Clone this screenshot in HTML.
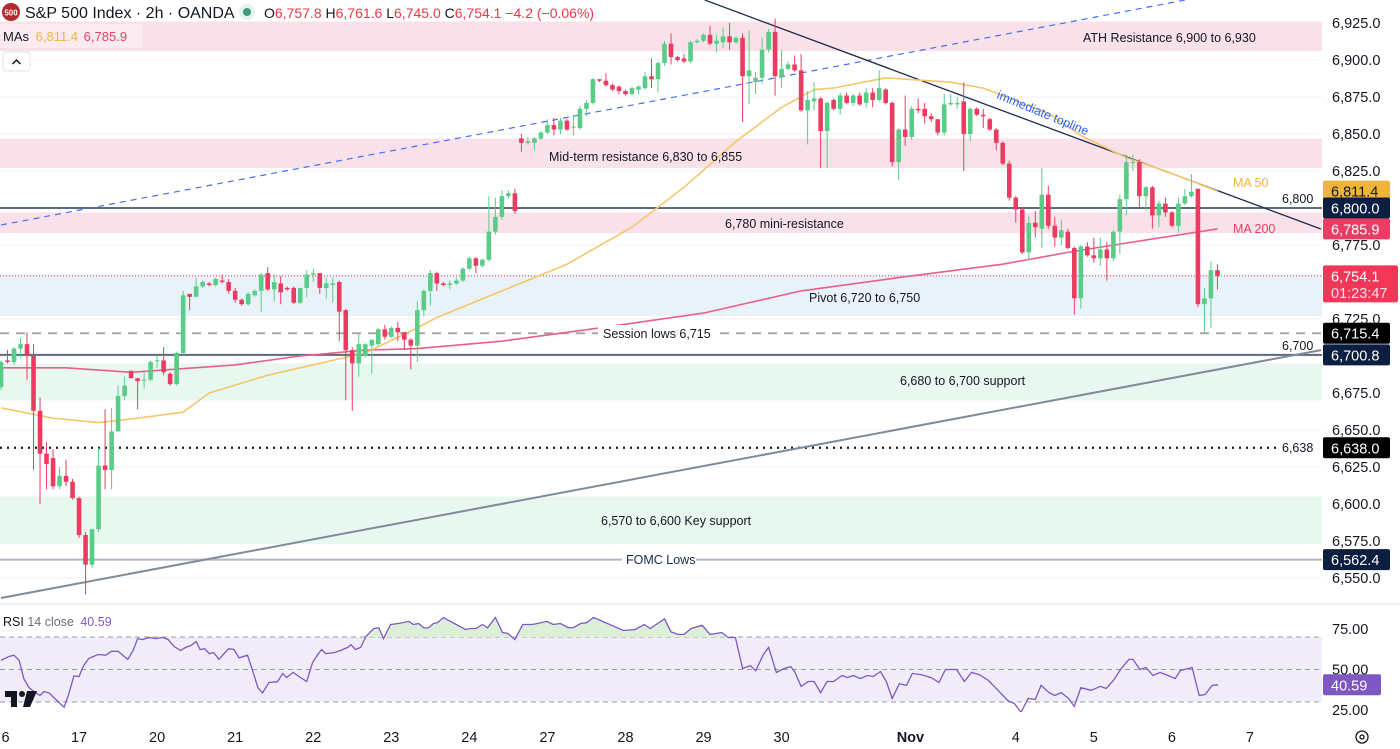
<!DOCTYPE html>
<html><head><meta charset="utf-8"><style>
html,body{margin:0;padding:0;background:#fff;width:1400px;height:749px;overflow:hidden}
svg{display:block;font-family:"Liberation Sans",sans-serif}
</style></head><body>
<svg id="chart" width="1400" height="749" viewBox="0 0 1400 749">
<defs>
<clipPath id="mainClip"><rect x="0" y="0" width="1322" height="603"/></clipPath>
<clipPath id="rsiClip"><rect x="0" y="605" width="1322" height="107"/></clipPath>
<clipPath id="obClip"><rect x="0" y="605" width="1322" height="32"/></clipPath>
</defs>
<g id="grid"></g>
<g id="zones"></g>
<g id="lines" clip-path="url(#mainClip)"></g>
<g id="candles" clip-path="url(#mainClip)"></g>
<g id="labels"></g>
<line x1="0" y1="604" x2="1400" y2="604" stroke="#e0e3eb" stroke-width="1"/>
<g id="rsi"></g>
<g id="axis"></g>
<g id="taxis"></g>
<g>
  <circle cx="11" cy="12" r="9" fill="#b22a2f"/>
  <text x="11" y="15.5" font-size="8" fill="#fff" text-anchor="middle" font-weight="bold">500</text>
  <text x="25" y="18" font-size="16" fill="#131722">S&amp;P 500 Index · 2h · OANDA</text>
  <circle cx="247" cy="12" r="8" fill="#e3f2ec"/><circle cx="247" cy="12" r="4" fill="#3d9a7a"/>
  <text x="264" y="18" font-size="14" fill="#131722">O<tspan fill="#f23645">6,757.8</tspan> H<tspan fill="#f23645">6,761.6</tspan> L<tspan fill="#f23645">6,745.0</tspan> C<tspan fill="#f23645">6,754.1</tspan> <tspan fill="#f23645">−4.2 (−0.06%)</tspan></text>
  <rect x="0" y="24" width="143" height="24" fill="#fff" opacity="0.35"/>
  <text x="3" y="41" font-size="13" fill="#131722">MAs <tspan fill="#f0b43c" dx="3">6,811.4</tspan> <tspan fill="#e83e63" dx="2">6,785.9</tspan></text>
  <rect x="3" y="52" width="27" height="19" rx="3" fill="#fff" stroke="#e0e3eb"/>
  <path d="M12.5 64 L16.5 60 L20.5 64" fill="none" stroke="#131722" stroke-width="1.5"/>
</g>
<g>
  <path d="M5 691 H17 V707 H11 V697 H5 Z" fill="#131722"/><circle cx="22" cy="694" r="3" fill="#131722"/><path d="M27 691 H37 L30 707 H23 Z" fill="#131722"/>
</g>
<g><circle cx="1362" cy="737" r="6" fill="none" stroke="#131722" stroke-width="1.3"/><circle cx="1362" cy="737" r="2" fill="none" stroke="#131722" stroke-width="1.3"/></g>
</svg>
<script>
const O=[6679,6697,6696,6705,6708,6700,6663,6634,6631,6612,6619,6615,6604,6579,6559,6583,6626,6623,6649,6673,6690,6685,6684,6684,6697,6697,6688,6681,6702,6742,6740,6747,6749,6748,6751,6750,6744,6738,6735,6741,6744,6756,6745,6749,6746,6746,6736,6746,6755,6756,6746,6748,6750,6731,6704,6695,6700,6707,6708,6718,6713,6719,6716,6711,6707,6731,6744,6756,6749,6748,6749,6751,6759,6766,6761,6765,6784,6794,6808,6810,6847,6844,6844,6847,6851,6856,6853,6859,6855,6854,6867,6871,6887,6886,6883,6882,6879,6877,6880,6881,6889,6887,6898,6911,6902,6901,6899,6912,6913,6917,6911,6912,6916,6912,6915,6889,6885,6888,6907,6919,6889,6894,6897,6893,6866,6872,6874,6852,6873,6867,6876,6871,6876,6871,6878,6873,6880,6871,6831,6853,6848,6867,6867,6862,6860,6851,6870,6870,6872,6850,6867,6863,6860,6853,6844,6830,6807,6799,6770,6790,6786,6809,6788,6780,6784,6773,6739,6774,6768,6766,6772,6766,6784,6806,6831,6831,6808,6814,6795,6803,6797,6788,6803,6808,6813,6735,6739,6758];
const H=[6697,6704,6706,6712,6716,6708,6672,6642,6637,6625,6630,6617,6605,6581,6583,6638,6664,6665,6680,6686,6690,6685,6689,6697,6700,6706,6689,6703,6744,6742,6753,6751,6750,6753,6755,6752,6746,6739,6743,6745,6756,6760,6755,6754,6747,6747,6746,6758,6759,6756,6753,6753,6751,6732,6706,6715,6709,6711,6719,6721,6720,6723,6716,6712,6737,6745,6758,6757,6750,6751,6753,6760,6767,6767,6766,6808,6807,6812,6812,6813,6850,6848,6848,6852,6860,6861,6861,6860,6863,6869,6873,6888,6887,6891,6884,6883,6880,6882,6883,6892,6901,6899,6913,6918,6903,6904,6913,6914,6918,6923,6917,6922,6925,6916,6918,6920,6892,6915,6921,6928,6907,6899,6903,6904,6879,6885,6875,6872,6874,6878,6878,6877,6878,6881,6881,6893,6881,6872,6854,6876,6869,6874,6871,6864,6860,6877,6877,6875,6885,6868,6868,6867,6861,6854,6845,6832,6808,6800,6795,6798,6827,6815,6794,6792,6786,6774,6775,6777,6780,6780,6777,6785,6809,6836,6836,6833,6815,6815,6805,6807,6798,6807,6813,6823,6813,6746,6764,6762];
const L=[6677,6695,6694,6699,6684,6623,6600,6610,6610,6610,6612,6603,6577,6539,6557,6581,6610,6610,6649,6670,6685,6664,6678,6683,6692,6687,6680,6680,6701,6731,6740,6746,6747,6747,6749,6742,6736,6734,6734,6740,6730,6744,6737,6735,6744,6735,6735,6740,6750,6742,6739,6736,6710,6670,6663,6686,6699,6688,6707,6711,6712,6710,6704,6691,6696,6727,6734,6744,6747,6745,6748,6750,6758,6756,6760,6764,6782,6792,6806,6796,6838,6843,6839,6846,6850,6849,6850,6852,6849,6853,6862,6870,6885,6882,6879,6877,6876,6876,6877,6880,6881,6878,6896,6897,6899,6898,6898,6911,6912,6910,6905,6908,6907,6911,6858,6870,6877,6884,6905,6876,6881,6893,6892,6865,6843,6866,6827,6827,6866,6863,6870,6869,6869,6868,6868,6872,6870,6828,6819,6842,6846,6864,6857,6858,6849,6849,6869,6867,6825,6845,6862,6854,6852,6839,6829,6805,6790,6769,6765,6780,6773,6786,6774,6775,6772,6728,6732,6767,6763,6761,6751,6764,6769,6795,6825,6800,6798,6786,6787,6794,6787,6783,6802,6807,6733,6715,6719,6745];
const C=[6696,6696,6705,6708,6700,6663,6634,6627,6612,6619,6615,6604,6579,6559,6583,6626,6623,6649,6673,6680,6685,6683,6684,6696,6697,6689,6681,6702,6741,6740,6747,6750,6748,6752,6750,6744,6738,6735,6742,6744,6755,6745,6750,6743,6745,6736,6746,6755,6756,6746,6749,6749,6730,6704,6695,6708,6708,6711,6718,6713,6719,6716,6711,6707,6731,6744,6756,6749,6748,6749,6751,6759,6766,6761,6765,6784,6794,6808,6810,6798,6844,6845,6847,6851,6856,6853,6859,6853,6855,6867,6871,6887,6886,6883,6880,6879,6877,6881,6882,6889,6887,6898,6911,6902,6900,6899,6912,6913,6917,6911,6913,6916,6912,6915,6889,6893,6888,6907,6919,6889,6894,6897,6893,6866,6873,6874,6852,6871,6867,6876,6871,6876,6870,6878,6873,6881,6871,6831,6853,6848,6867,6866,6862,6860,6851,6870,6871,6871,6850,6867,6863,6862,6853,6844,6830,6807,6799,6770,6790,6787,6809,6788,6780,6785,6773,6739,6774,6768,6766,6772,6766,6784,6806,6831,6831,6808,6814,6795,6803,6797,6788,6803,6808,6811,6735,6739,6758,6754];
const ma50Idx=[0,8,15,21,28,32,41,51,56,64,67,77,87,97,105,113,120,125,128,136,146,151,161,166,173,179,187];
const ma50Val=[6665,6658,6655,6658,6662,6675,6687,6697,6702,6719,6726,6744,6762,6787,6814,6845,6868,6880,6881,6888,6885,6881,6864,6849,6834,6825,6811.4];
const ma200Idx=[0,10,20,36,46,56,64,77,92,108,123,138,154,164,174,187];
const ma200Val=[6692,6692,6689,6694,6700,6704,6705,6710,6719,6729,6744,6753,6762,6770,6777,6785.9];
const rsiIdx=[0,1.2,2,2.8,3.5,4.3,5.1,6,6.6,7.4,8.1,9.7,10.4,11.2,12,12.7,13.5,14.9,16.1,17,18,19.5,20.3,21,21.8,22.7,23.8,24.9,25.7,26.6,27.6,28.4,29.2,30,30.6,31.3,32,32.7,33.5,34.3,35,35.8,36.6,37.9,38.7,39.5,40.2,41.2,42.5,43.3,43.9,44.9,45.8,47,47.9,48.7,49.3,49.9,51.2,52.2,53.3,53.8,54.5,55.3,56.1,57.3,58.1,58.8,59.9,61.1,62.7,63.4,64.2,65,65.7,66.5,67.1,68,71.4,72.2,73,74,74.8,76,77.1,77.9,79,80.2,81.7,83.9,84.9,86,87.2,88,89.1,90,91.1,95.7,97.5,98.9,99.8,102,103,104.1,105,106.1,107.8,109,110.8,111.8,112.9,114,115.2,116,117.2,118,119.2,120.4,121.4,122,123,124.1,125,126,127,128,129.3,130.1,131,132.1,133.2,134.1,135.2,136.1,137,138.1,139.2,140.1,141.5,143,144.2,145.2,146.9,148.1,149.2,150.4,151.8,153.3,154.8,155.8,156.8,157.9,159,159.9,161.1,162,163,164.1,165,166,167.6,169,169.9,171.1,172.2,173.4,174,175.1,176,177.1,178.2,179.4,180.5,181.3,183.1,184.2,185.1,186.2,187.1];
const rsiVal=[55.6,58,58.8,55.6,44.4,38.8,36.4,34,36.4,35.6,32.8,26.8,34.8,46,45.7,52.4,56.8,59.2,58.8,61.2,61.2,56.2,61.7,69,68.4,69.7,69,69.7,68.4,64.2,61.7,63.6,64.8,67.2,62.3,62.8,59.8,60.4,56.2,59.8,62.8,62.3,57.2,58.8,49.2,38.8,35.6,42,42.5,47.6,45,48.2,45.7,42.6,54.3,59.2,62.3,59.8,60.4,61.7,63.6,65.2,62.3,63.6,70.3,75.2,75.6,69,77.7,78.3,79.6,77.7,78.3,75.6,75.6,78.3,78.8,82,74.6,75.2,75.2,77.7,75.6,82,72.8,72.2,68.4,77.7,77.7,79.6,77.7,78.3,75.8,75.8,78.3,78.8,82,74,74.6,77.7,75.2,81.2,73.2,71.6,71.6,75.2,77.2,71.6,72.8,69.7,69.7,50.6,52.4,49.2,59.2,63.6,48.2,50.6,51.8,48.8,39.6,42.6,42.6,35.8,42.6,42.6,46.3,45,46.3,44.4,46.3,45.7,48.8,42.6,32.2,41.2,40.2,47.6,46.8,45,42,50,50,42.6,48.2,46.8,43.2,37,30.8,29,23.6,32.2,31.6,40.2,35.8,34,35.8,32.2,27.2,38.8,37.2,39.6,38.3,43.8,50.6,56.2,56.2,50,51.2,46.3,48.2,46.3,44.4,49.4,51.2,34,34.6,40.2,40.6];
const priceTicks=[6925,6900,6875,6850,6825,6800,6775,6750,6725,6700,6675,6650,6625,6600,6575,6550];
const dateLabels=["6","17","20","21","22","23","24","27","28","29","30","Nov","4","5","6","7"];
const dateIdx=[0.7,12,24,36,48,60,72,84,96,108,120,139.8,156,168,180,192];

const NS="http://www.w3.org/2000/svg";
const xI=i=>1+i*6.505;
const yP=p=>23+(6925-p)*1.48;
const yR=r=>669.5-(r-50)*1.625;
function mk(tag,attrs,parent,text){const e=document.createElementNS(NS,tag);for(const k in attrs)e.setAttribute(k,attrs[k]);if(text!==undefined)e.textContent=text;parent.appendChild(e);return e;}
const gGrid=document.getElementById('grid'),gZones=document.getElementById('zones'),gLines=document.getElementById('lines'),gC=document.getElementById('candles'),gLab=document.getElementById('labels'),gR=document.getElementById('rsi'),gA=document.getElementById('axis'),gT=document.getElementById('taxis');

// grid
priceTicks.forEach(p=>{const l=mk('line',{x1:0,x2:1322,y1:yP(p),y2:yP(p),stroke:'#f0f2f6','stroke-width':1},gGrid);

});

// zones [top, bottom, color]
const zoneTop=[6926,6847,6797,6755,6695,6605];
const zoneBot=[6906,6827,6783,6727,6670,6573];
const zoneCol=['#f9e1ea','#f9e1ea','#f9e1ea','#eaf2f9','#e8f7ef','#e8f7ef'];
const zoneNames=['ath-resistance-zone','mid-term-resistance-zone','mini-resistance-zone','pivot-zone','support-zone','key-support-zone'];
zoneTop.forEach((t,k)=>{const r=mk('rect',{x:0,y:yP(t),width:1322,height:yP(zoneBot[k])-yP(t),fill:zoneCol[k]},gZones);

});

// horizontal levels
function hline(p,col,w,dash,name){const l=mk('line',{x1:0,x2:1322,y1:yP(p),y2:yP(p),stroke:col,'stroke-width':w},gLines);if(dash)l.setAttribute('stroke-dasharray',dash);

}
hline(6800,'#5d6b80',2,null,'level-6800');
hline(6700.8,'#5d6b80',2,null,'level-6700');
hline(6715.4,'#a8a8a8',2,'9 7','session-lows-line');
hline(6638,'#131722',2.2,'2 5','level-6638');
hline(6562.4,'#b2b7c4',2,null,'fomc-lows-line');
hline(6754.1,'#f23645',1,'1 2','current-price-line');

// trendlines
function tline(i1,p1,i2,p2,col,w,dash,name){const l=mk('line',{x1:xI(i1),y1:yP(p1),x2:xI(i2),y2:yP(p2),stroke:col,'stroke-width':w},gLines);if(dash)l.setAttribute('stroke-dasharray',dash);

}
tline(0,6788.5,182,6940.5,'#4a6ef0',1.2,'6 5','uptrend-channel-line');
tline(108.2,6940.5,202.9,6785.8,'#1e2a4a',1.3,null,'immediate-topline');
tline(0,6536.5,202.9,6704,'#7f8a9a',2,null,'rising-support-line');

// MAs
function maPath(idx,val,col,name){const d=idx.map((i,k)=>(k?'L':'M')+xI(i).toFixed(1)+' '+yP(val[k]).toFixed(1)).join(' ');const p=mk('path',{d:d,fill:'none',stroke:col,'stroke-width':1.6,'stroke-linejoin':'round'},gLines);

}
maPath(ma200Idx,ma200Val,'#e8608a','ma-200-line');
maPath(ma50Idx,ma50Val,'#f5c66a','ma-50-line');

// candles
const UP='#59cc88',DN='#ec3b61';
C.forEach((c,i)=>{const o=O[i],col=c>=o?UP:DN,x=xI(i);
const g=mk('g',{},gC);


mk('line',{x1:x,x2:x,y1:yP(H[i]),y2:yP(L[i]),stroke:col,'stroke-width':1},g);
const top=yP(Math.max(o,c)),bot=yP(Math.min(o,c));
mk('rect',{x:x-2.3,y:top,width:4.6,height:Math.max(1,bot-top),fill:col},g);});

// annotation labels
function lab(x,y,t,opts,name){const e=mk('text',Object.assign({x:x,y:y,'font-size':12.5,fill:'#131722'},opts||{}),gLab,t);

return e;}
lab(1083,42,'ATH Resistance 6,900 to 6,930',{},'ath-label');
lab(549,161,'Mid-term resistance 6,830 to 6,855',{},'mid-term-label');
lab(725,228,'6,780 mini-resistance',{},'mini-resistance-label');
lab(809,302,'Pivot 6,720 to 6,750',{},'pivot-label');
mk('rect',{x:598,y:325,width:122,height:16,fill:'#fff'},gLab);
lab(603,338,'Session lows 6,715',{},'session-lows-label');
lab(900,385,'6,680 to 6,700 support',{},'support-label');
lab(601,525,'6,570 to 6,600 Key support',{},'key-support-label');
mk('rect',{x:622,y:552,width:74,height:16,fill:'#fff'},gLab);
lab(626,564,'FOMC Lows',{fill:'#1e2a4a'},'fomc-lows-label');
lab(1282,203,'6,800',{},'level-6800-label');
lab(1282,350,'6,700',{},'level-6700-label');
mk('rect',{x:1278,y:440,width:44,height:16,fill:'#fff'},gLab);
lab(1282,452,'6,638',{},'level-6638-label');
lab(1233,187,'MA 50',{fill:'#f0b43c'},'ma-50-label');
lab(1233,233,'MA 200',{fill:'#e83e63'},'ma-200-label');
lab(0,0,'immediate topline',{fill:'#2962ff',transform:'translate(996,98) rotate(22.5)'},'topline-label');

// price axis
priceTicks.forEach(p=>{const t=mk('text',{x:1332,y:yP(p)+5,'font-size':14.5,fill:'#131722'},gA,p.toLocaleString('en-US',{minimumFractionDigits:1}));

});
const tagVal=[6811.4,6800.0,6785.9,6715.4,6700.8,6638.0,6562.4];
const tagCol=['#f0b43c','#0c1f40','#e83e63','#000000','#0c1f40','#000000','#0c1f40'];
const tagTxt=['#131722','#fff','#fff','#fff','#fff','#fff','#fff'];
tagVal.forEach((v,k)=>{const y=yP(v);
const g=mk('g',{},gA);


mk('rect',{x:1323,y:y-10.5,width:67,height:21,rx:2,fill:tagCol[k]},g);
mk('text',{x:1331,y:y+5.5,'font-size':14.5,fill:tagTxt[k]},g,v.toLocaleString('en-US',{minimumFractionDigits:1}));});
(function(){const y=yP(6754.1);const g=mk('g',{},gA);


mk('rect',{x:1323,y:y-10.5,width:75,height:37,rx:2,fill:'#f23658'},g);
mk('text',{x:1331,y:y+5.5,'font-size':14.5,fill:'#fff'},g,'6,754.1');
mk('text',{x:1331,y:y+22,'font-size':14.5,fill:'#fde2e7'},g,'01:23:47');})();

// RSI pane
mk('rect',{x:0,y:yR(70),width:1322,height:yR(30)-yR(70),fill:'#f1edf8'},gR);
[70,50,30].forEach(v=>{const l=mk('line',{x1:0,x2:1322,y1:yR(v),y2:yR(v),stroke:'#9a9aa3','stroke-width':1,'stroke-dasharray':'5 4'},gR);

});
const rd=rsiIdx.map((i,k)=>(k?'L':'M')+xI(i).toFixed(1)+' '+yR(rsiVal[k]).toFixed(1)).join(' ');
const fillD=rd+' L'+xI(rsiIdx[rsiIdx.length-1]).toFixed(1)+' '+yR(70)+' L'+xI(rsiIdx[0])+' '+yR(70)+' Z';
const ob=mk('path',{d:fillD,fill:'#dcefd9','clip-path':'url(#obClip)'},gR);


const rl=mk('path',{d:rd,fill:'none',stroke:'#7e57c2','stroke-width':1.3,'clip-path':'url(#rsiClip)'},gR);


const rt=mk('text',{x:3,y:626,'font-size':12.5,fill:'#131722'},gR);


rt.innerHTML='RSI <tspan fill="#6a6d78">14 close</tspan> <tspan fill="#7e57c2" dx="3">40.59</tspan>';
const rsiTicks=[75,50,25];
rsiTicks.forEach(v=>{const t=mk('text',{x:1332,y:yR(v)+5,'font-size':14.5,fill:'#131722'},gR,v.toFixed(2));

});
(function(){const v=rsiVal[rsiVal.length-1];const g=mk('g',{},gR);


mk('rect',{x:1323,y:yR(v)-10.5,width:58,height:21,rx:2,fill:'#7e57c2'},g);
mk('text',{x:1331,y:yR(v)+5.5,'font-size':14.5,fill:'#fff'},g,'40.59');})();

// time axis
dateLabels.forEach((d,k)=>{const t=mk('text',{x:xI(dateIdx[k]),y:742,'font-size':14.5,fill:'#131722','text-anchor':'middle','font-weight':d==='Nov'?'bold':'normal'},gT,d);

});
</script>
</body></html>
